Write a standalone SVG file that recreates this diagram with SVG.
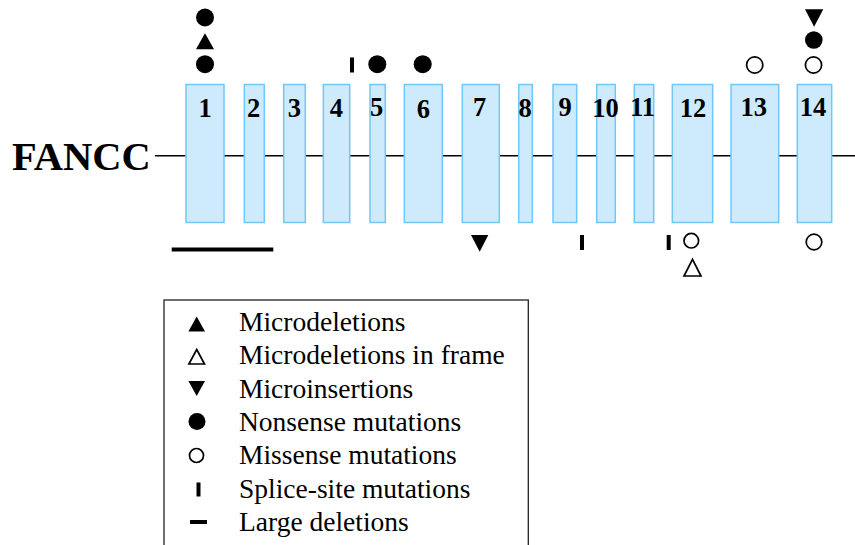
<svg xmlns="http://www.w3.org/2000/svg" width="855" height="545" viewBox="0 0 855 545">
<style>
.exon{fill:#cdebfd;stroke:#70c8f8;stroke-width:1.5}
.num{font-family:"Liberation Serif",serif;font-weight:bold;font-size:26.5px;text-anchor:middle;fill:#000}
.leg{font-family:"Liberation Serif",serif;font-size:27.5px;fill:#000}
.fill{fill:#000}
.open{fill:#fff;stroke:#000;stroke-width:1.7}
</style>
<rect width="855" height="545" fill="#fff"/>
<g id="connectors">
<line x1="155" y1="155.7" x2="855" y2="155.7" stroke="#000" stroke-width="1.6"/>
</g>
<text id="gene-label" x="12" y="169.5" font-family="Liberation Serif,serif" font-weight="bold" font-size="40.5" fill="#000">FANCC</text>
<g id="exons">
<g id="exon1"><rect class="exon" x="186" y="84.5" width="38" height="138"/><text class="num" x="205" y="116.7">1</text></g>
<g id="exon2"><rect class="exon" x="244.3" y="84.5" width="20" height="138"/><text class="num" x="253.5" y="117.3">2</text></g>
<g id="exon3"><rect class="exon" x="283.7" y="84.5" width="21.6" height="138"/><text class="num" x="294.3" y="116.7">3</text></g>
<g id="exon4"><rect class="exon" x="323.3" y="84.5" width="26.4" height="138"/><text class="num" x="336.3" y="117.3">4</text></g>
<g id="exon5"><rect class="exon" x="370" y="84.5" width="15.3" height="138"/><text class="num" x="376.7" y="116">5</text></g>
<g id="exon6"><rect class="exon" x="404.3" y="84.5" width="38" height="138"/><text class="num" x="423.3" y="118.3">6</text></g>
<g id="exon7"><rect class="exon" x="462.3" y="84.5" width="37" height="138"/><text class="num" x="479.5" y="116">7</text></g>
<g id="exon8"><rect class="exon" x="518.7" y="84.5" width="13.6" height="138"/><text class="num" x="525" y="116.7">8</text></g>
<g id="exon9"><rect class="exon" x="553" y="84.5" width="23.7" height="138"/><text class="num" x="565" y="116">9</text></g>
<g id="exon10"><rect class="exon" x="596.7" y="84.5" width="18.6" height="138"/><text class="num" x="605.5" y="117.3">10</text></g>
<g id="exon11"><rect class="exon" x="634.3" y="84.5" width="19.4" height="138"/><text class="num" x="642.5" y="116">11</text></g>
<g id="exon12"><rect class="exon" x="672.3" y="84.5" width="40.4" height="138"/><text class="num" x="693" y="117.3">12</text></g>
<g id="exon13"><rect class="exon" x="731" y="84.5" width="47.7" height="138"/><text class="num" x="753.7" y="116">13</text></g>
<g id="exon14"><rect class="exon" x="797.3" y="84.5" width="34.4" height="138"/><text class="num" x="813" y="116">14</text></g>
</g>
<g id="mutations-above">
<circle class="fill" cx="205" cy="17.5" r="9"/>
<polygon class="fill" points="205,33.3 214,49.3 196,49.3"/>
<circle class="fill" cx="205" cy="64.2" r="9"/>
<rect class="fill" x="350" y="57.5" width="4" height="15"/>
<circle class="fill" cx="377.3" cy="64.2" r="9"/>
<circle class="fill" cx="422.7" cy="64.2" r="9"/>
<circle class="open" cx="754.7" cy="65" r="8.1"/>
<polygon class="fill" points="805,9.3 823.3,9.3 814.1,26.7"/>
<circle class="fill" cx="813.8" cy="40" r="8.8"/>
<circle class="open" cx="813.5" cy="65" r="8.1"/>
</g>
<g id="mutations-below">
<line x1="171.7" y1="249.5" x2="273.3" y2="249.5" stroke="#000" stroke-width="4"/>
<polygon class="fill" points="471,235 488.3,235 479.7,251.7"/>
<rect class="fill" x="580" y="235" width="4" height="15"/>
<rect class="fill" x="666.7" y="235" width="4" height="15"/>
<circle class="open" cx="691.3" cy="240.7" r="7.3"/>
<polygon class="open" points="692.5,259.3 701,276 684,276"/>
<circle class="open" cx="814" cy="242" r="7.8"/>
</g>
<g id="legend">
<rect x="164" y="300" width="364.3" height="250" fill="none" stroke="#222" stroke-width="1.3"/>
<polygon class="fill" points="196.7,316.5 205,331.5 188.4,331.5"/>
<polygon class="open" points="196.7,349.5 204.5,364 188.9,364" stroke-width="1.5"/>
<polygon class="fill" points="188.4,381 205,381 196.7,396"/>
<circle class="fill" cx="197" cy="421.5" r="8.5"/>
<circle class="open" cx="196.5" cy="455.5" r="7" stroke-width="1.6"/>
<rect class="fill" x="196.5" y="482.5" width="4" height="14"/>
<rect class="fill" x="190" y="520" width="17" height="4"/>
<text class="leg" x="239" y="331">Microdeletions</text>
<text class="leg" x="239" y="364.3">Microdeletions in frame</text>
<text class="leg" x="239" y="397.6">Microinsertions</text>
<text class="leg" x="239" y="430.9">Nonsense mutations</text>
<text class="leg" x="239" y="464.2">Missense mutations</text>
<text class="leg" x="239" y="497.5">Splice-site mutations</text>
<text class="leg" x="239" y="530.8">Large deletions</text>
</g>
</svg>
